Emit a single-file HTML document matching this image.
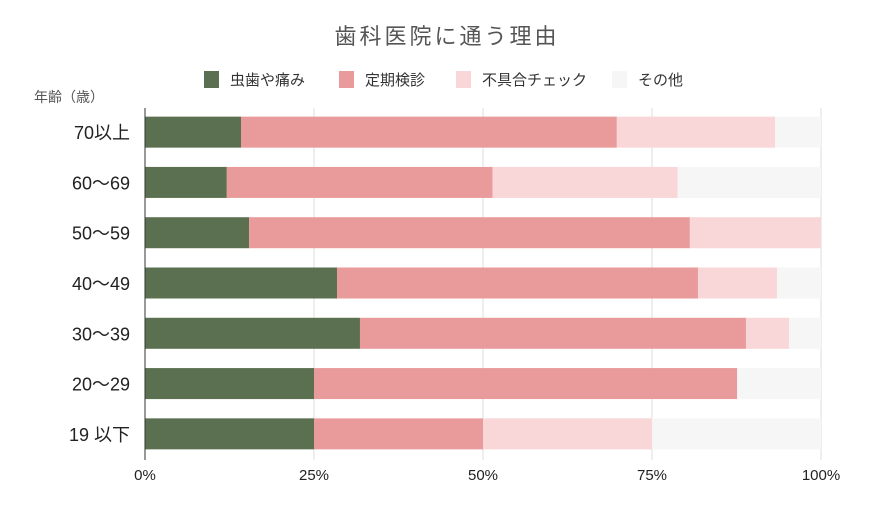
<!DOCTYPE html>
<html><head><meta charset="utf-8"><style>
body{margin:0;background:#fff;font-family:"Liberation Sans","Noto Sans CJK JP",sans-serif;}
</style></head><body>
<svg id="chart" width="894" height="502" xmlns="http://www.w3.org/2000/svg" font-family="Liberation Sans, Noto Sans CJK JP, sans-serif"></svg>
<script>
const categories=["70以上","60～69","50～59","40～49","30～39","20～29","19 以下"];
const seriesNames=["虫歯や痛み","定期検診","不具合チェック","その他"];
const pain=[14.2,12.1,15.4,28.4,31.8,25,25];
const checkup=[55.6,39.3,65.2,53.4,57.1,62.6,25];
const trouble=[23.4,27.4,19.4,11.7,6.4,0,25];
const other=[6.8,21.2,0,6.5,4.7,12.4,25];
const ticks=[0,25,50,75,100];
const tickLabels=["0%","25%","50%","75%","100%"];
const colors=["#5a7050","#e99a9a","#f9d6d8","#f6f6f6"];
const svg=document.getElementById('chart');
const NS="http://www.w3.org/2000/svg";
function mk(t,a,txt){const e=document.createElementNS(NS,t);for(const k in a)e.setAttribute(k,a[k]);if(txt!==undefined)e.textContent=txt;svg.appendChild(e);return e;}
const x0=145,x1=821,yTop=108,yBot=460;
const xs=v=>x0+(x1-x0)*v/100;
const rowH=(yBot-yTop)/categories.length;
const yc=i=>yTop+rowH*(i+0.5)-1;
let e=mk('text',{x:447,y:44,'text-anchor':'middle','font-size':22,fill:'#555','letter-spacing':3},'歯科医院に通う理由');

const legX=[204,339,456,612];
seriesNames.forEach((n,i)=>{
 const r=mk('rect',{x:legX[i],y:71,width:15,height:17,fill:colors[i]});
 
 const t=mk('text',{x:legX[i]+26,y:85,'font-size':15,fill:'#333'},n);
 
});
e=mk('text',{x:34,y:102,'font-size':14,fill:'#555'},'年齢（歳）');

ticks.forEach((t,i)=>{
 if(i>0){const g=mk('line',{x1:xs(t),x2:xs(t),y1:yTop,y2:yBot,stroke:'#ddd','stroke-width':1});
 }
 const l=mk('text',{x:xs(t),y:480,'text-anchor':'middle','font-size':15,fill:'#222'},tickLabels[i]);
 
});
const series=[pain,checkup,trouble,other];
categories.forEach((c,i)=>{
 let acc=0;
 series.forEach((s,j)=>{
  const v=s[i];
  if(v>0){const b=mk('rect',{x:xs(acc),y:yc(i)-15.5,width:xs(acc+v)-xs(acc),height:31,fill:colors[j]});
  }
  acc+=v;
 });
 const l=mk('text',{x:130,y:yc(i)+7,'text-anchor':'end','font-size':18,fill:'#222'},c);
 
});
e=mk('line',{x1:x0,x2:x0,y1:yTop,y2:yBot,stroke:'#333','stroke-width':1});

</script>
</body></html>
